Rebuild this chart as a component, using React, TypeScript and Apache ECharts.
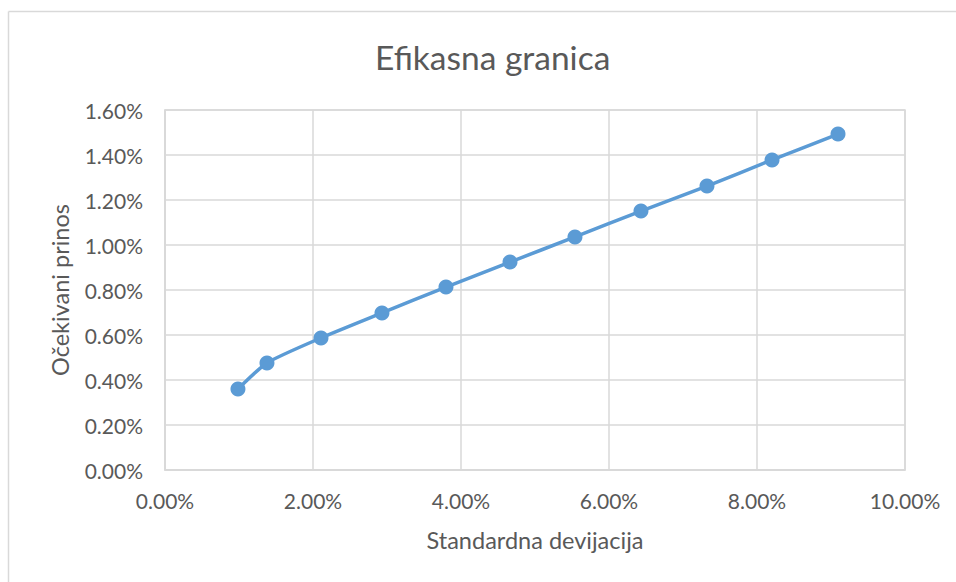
import React, { useEffect, useRef } from "react";
import * as echarts from "echarts";

const titleText = "Efikasna granica";
const xAxisName = "Standardna devijacija";
const yAxisName = "Očekivani prinos";
const stdDev = [0.986, 1.378, 2.108, 2.932, 3.797, 4.662, 5.54, 6.432, 7.324, 8.203, 9.095];
const expReturn = [0.36, 0.476, 0.587, 0.698, 0.813, 0.924, 1.036, 1.151, 1.262, 1.378, 1.493];

const FONT = "Lato, 'Open Sans', sans-serif";
const TXT = "#595959";

export default function App() {
  const ref = useRef<HTMLDivElement>(null);
  useEffect(() => {
    if (!ref.current) return;
    const chart = echarts.init(ref.current, undefined, { renderer: "svg" });
    const data = stdDev.map((x, i) => [x, expReturn[i]]);
    chart.setOption({
      animation: false,
      backgroundColor: "#ffffff",
      textStyle: { fontFamily: FONT },
      title: {
        text: titleText,
        left: 370,
        top: 35,
        textStyle: { fontFamily: FONT, fontSize: 33.5, fontWeight: "normal", color: TXT },
      },
      grid: { left: 165, right: 51, top: 110, bottom: 112, containLabel: false },
      xAxis: {
        type: "value",
        min: 0,
        max: 10,
        interval: 2,
        name: xAxisName,
        nameLocation: "middle",
        nameGap: 58,
        nameTextStyle: { fontFamily: FONT, fontSize: 23.5, color: TXT },
        axisLine: { show: true, lineStyle: { color: "#d9d9d9", width: 1.5 } },
        axisTick: { show: false },
        axisLabel: {
          fontFamily: FONT,
          fontSize: 21,
          color: TXT,
          margin: 20,
          formatter: (v: number) => v.toFixed(2) + "%",
        },
        splitLine: { show: true, lineStyle: { color: "#d9d9d9", width: 1.5 } },
      },
      yAxis: {
        type: "value",
        min: 0,
        max: 1.6,
        interval: 0.2,
        name: yAxisName,
        nameLocation: "middle",
        nameGap: 93,
        nameRotate: 90,
        nameTextStyle: { fontFamily: FONT, fontSize: 23.5, color: TXT },
        axisLine: { show: true, lineStyle: { color: "#d9d9d9", width: 1.5 } },
        axisTick: { show: false },
        axisLabel: {
          fontFamily: FONT,
          fontSize: 21,
          color: TXT,
          margin: 22,
          formatter: (v: number) => v.toFixed(2) + "%",
        },
        splitLine: { show: true, lineStyle: { color: "#d9d9d9", width: 1.5 } },
      },
      series: [
        {
          type: "line",
          data,
          smooth: 0.2,
          symbol: "circle",
          symbolSize: 15,
          lineStyle: { color: "#5b9bd5", width: 3.5 },
          itemStyle: { color: "#5b9bd5" },
        },
      ],
      graphic: [
        { type: "rect", shape: { x: 165, y: 110, width: 740, height: 360 }, style: { fill: "none", stroke: "#d9d9d9", lineWidth: 1.5 }, silent: true },
        { type: "line", shape: { x1: 8.5, y1: 11.5, x2: 956, y2: 11.5 }, style: { stroke: "#d9d9d9", lineWidth: 1.5 }, silent: true },
        { type: "line", shape: { x1: 8.5, y1: 11.5, x2: 8.5, y2: 582 }, style: { stroke: "#d9d9d9", lineWidth: 1.5 }, silent: true },
      ],
    });
    return () => chart.dispose();
  }, []);
  return (
    <div
      ref={ref}
      style={{ position: "absolute", left: 0, top: 0, width: 956, height: 582 }}
    />
  );
}
